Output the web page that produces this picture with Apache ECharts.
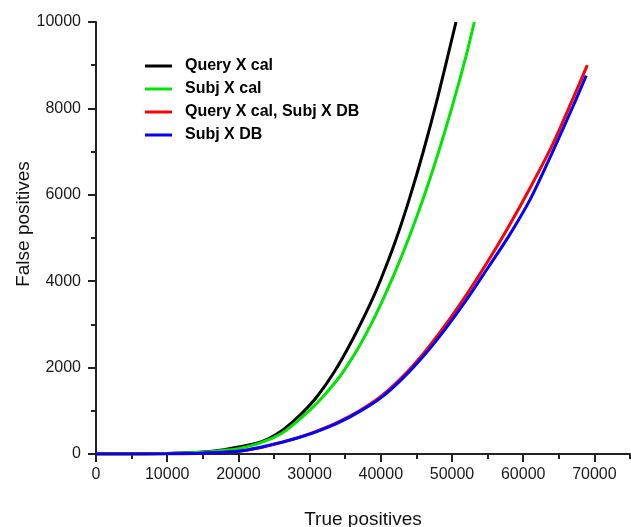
<!DOCTYPE html>
<html>
<head>
<meta charset="utf-8">
<title>True vs false positives</title>
<script src="https://cdn.jsdelivr.net/npm/echarts@6/dist/echarts.min.js"></script>
<style>
	html, body { margin: 0; padding: 0; background: #fff; }
	#fpChart { width: 631px; height: 527px; }
</style>
</head>
<body>
<div id="fpChart"></div>
<script>
// series names
var seriesNames = ['Query X cal', 'Subj X cal', 'Query X cal, Subj X DB', 'Subj X DB'];
var seriesColors = ['#000000', '#00e600', '#ff0000', '#0000ff'];

// [true positives, false positives]
var queryCal = [
	[0, 0], [5000, 2], [10000, 12], [15000, 45], [18000, 100], [20000, 160], [22600, 250],
	[24400, 370], [26300, 560], [28650, 900], [31000, 1320], [33500, 1910], [36000, 2640],
	[38500, 3470], [40000, 4040], [42000, 4900], [44000, 5900], [46000, 7020], [48000, 8260],
	[50560, 10000]
];
var subjCal = [
	[0, 0], [5000, 2], [10000, 10], [15000, 38], [18000, 85], [20000, 125], [23000, 250],
	[26000, 470], [28000, 720], [30000, 1010], [32000, 1350], [34270, 1800], [36500, 2360],
	[38500, 2960], [40000, 3470], [42000, 4210], [44000, 5030], [46000, 5930], [48000, 6930],
	[50000, 8030], [52000, 9230], [53130, 10000]
];
var queryCalSubjDb = [
	[0, 0], [5000, 1], [10000, 5], [15000, 20], [20000, 62], [23000, 145], [26000, 265],
	[28000, 355], [31000, 530], [34000, 740], [37000, 1000], [40000, 1330], [43000, 1780],
	[46000, 2330], [49000, 2970], [52000, 3680], [55000, 4450], [58000, 5280], [61000, 6170],
	[64000, 7120], [67000, 8230], [69000, 9000]
];
var subjDb = [
	[0, 0], [5000, 1], [10000, 5], [15000, 20], [20000, 65], [23000, 150], [26000, 270],
	[28000, 360], [31000, 520], [34000, 720], [37000, 980], [40000, 1300], [43000, 1740],
	[46000, 2270], [49000, 2880], [52000, 3560], [55000, 4300], [58000, 5050], [61000, 5900],
	[64000, 6950], [67000, 8050], [68850, 8760]
];

// axis ticks
var xMajorTicks = [0, 10000, 20000, 30000, 40000, 50000, 60000, 70000];
var xMax = 75000;
var yMax = 10000;

/*
 * init chart
 */
function initFpChart() {
	var myChart = echarts.init(document.getElementById('fpChart'));
	var font = "'Liberation Sans', Arial, sans-serif";
	var allData = [queryCal, subjCal, queryCalSubjDb, subjDb];
	var series = [];
	for (var i = 0; i < allData.length; i++) {
		series.push({
			name : seriesNames[i],
			type : 'line',
			xAxisIndex : 0,
			yAxisIndex : 0,
			smooth : 0.3,
			symbol : 'none',
			lineStyle : {
				color : seriesColors[i],
				width : 3
			},
			itemStyle : {
				color : seriesColors[i]
			},
			data : allData[i]
		});
	}
	var plain = function(v) { return String(v); };
	var option = {
		backgroundColor : '#fff',
		animation : false,
		grid : {
			left : 96,
			right : 1,
			top : 22,
			bottom : 73,
			containLabel : false,
			outerBoundsMode : 'none'
		},
		legend : {
			orient : 'vertical',
			left : 145,
			top : 58,
			padding : 0,
			itemGap : 7,
			itemWidth : 27,
			itemHeight : 3,
			icon : 'rect',
			data : seriesNames,
			textStyle : {
				fontFamily : font,
				fontSize : 16,
				fontWeight : 'bold',
				color : '#000',
				lineHeight : 16,
				padding : [0, 0, 0, 8]
			}
		},
		xAxis : [{
			type : 'value',
			min : 0,
			max : xMax,
			interval : 10000,
			name : 'True positives',
			nameLocation : 'middle',
			nameGap : 56,
			nameTextStyle : {
				fontFamily : font,
				fontSize : 19,
				color : '#111'
			},
			axisLine : {
				lineStyle : { color : '#222', width : 2 }
			},
			axisTick : {
				length : 8,
				customValues : xMajorTicks,
				lineStyle : { color : '#222', width : 2 }
			},
			axisLabel : {
				margin : 13,
				customValues : xMajorTicks,
				formatter : plain,
				fontFamily : font,
				fontSize : 16,
				color : '#1a1a1a'
			},
			splitLine : { show : false }
		}, {
			// short ticks every 5000
			type : 'value',
			min : 0,
			max : xMax,
			interval : 5000,
			position : 'bottom',
			axisLine : { show : false },
			axisTick : {
				length : 5,
				lineStyle : { color : '#222', width : 2 }
			},
			axisLabel : { show : false },
			splitLine : { show : false }
		}],
		yAxis : {
			type : 'value',
			min : 0,
			max : yMax,
			interval : 2000,
			name : 'False positives',
			nameLocation : 'middle',
			nameGap : 63,
			nameMoveOverlap : false,
			nameTextStyle : {
				fontFamily : font,
				fontSize : 19,
				color : '#111',
				padding : [0, 0, 0, 28]
			},
			axisLine : {
				show : true,
				lineStyle : { color : '#222', width : 2 }
			},
			axisTick : {
				show : true,
				length : 8,
				lineStyle : { color : '#222', width : 2 }
			},
			minorTick : {
				show : true,
				splitNumber : 2,
				length : 5,
				lineStyle : { color : '#222', width : 2 }
			},
			axisLabel : {
				margin : 15,
				formatter : plain,
				fontFamily : font,
				fontSize : 16,
				color : '#1a1a1a'
			},
			splitLine : { show : false }
		},
		series : series
	};
	myChart.setOption(option, true);
}

initFpChart();
</script>
</body>
</html>
